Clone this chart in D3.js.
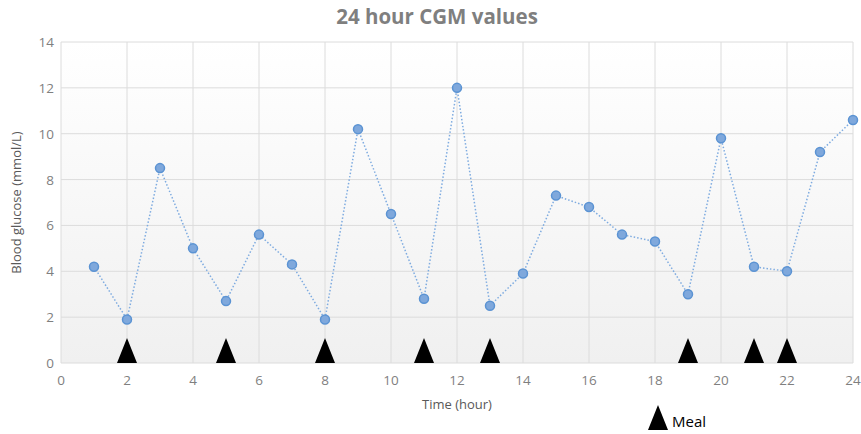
<!DOCTYPE html>
<html>
<head>
<meta charset="utf-8">
<script src="https://cdn.jsdelivr.net/npm/d3@7"></script>
<style>
  body { margin: 0; background: #fff; }
  text { font-family: "Open Sans", "Liberation Sans", sans-serif; }
</style>
</head>
<body>
<div id="chart"></div>
<script>
// hourly CGM readings
var hours = [1, 2, 3, 4, 5, 6, 7, 8, 9, 10, 11, 12, 13, 14, 15, 16, 17, 18, 19, 20, 21, 22, 23, 24];
var glucose = [4.2, 1.9, 8.5, 5.0, 2.7, 5.6, 4.3, 1.9, 10.2, 6.5, 2.8, 12.0, 2.5, 3.9, 7.3, 6.8, 5.6, 5.3, 3.0, 9.8, 4.2, 4.0, 9.2, 10.6];
var mealHours = [2, 5, 8, 11, 13, 19, 21, 22];
var xTicks = [0, 2, 4, 6, 8, 10, 12, 14, 16, 18, 20, 22, 24];
var yTicks = [0, 2, 4, 6, 8, 10, 12, 14];

var width = 861, height = 434;
var margin = {top: 42, right: 8, bottom: 71, left: 61};

var svg = d3.select("#chart").append("svg")
    .attr("width", width).attr("height", height);

var x = d3.scaleLinear().domain([0, 24]).range([margin.left, width - margin.right]);
var y = d3.scaleLinear().domain([0, 14]).range([height - margin.bottom, margin.top]);

var defs = svg.append("defs");
var grad = defs.append("linearGradient")
    .attr("id", "bg").attr("x1", 0).attr("y1", 0).attr("x2", 0).attr("y2", 1);
grad.append("stop").attr("offset", "0%").attr("stop-color", "#ffffff");
grad.append("stop").attr("offset", "100%").attr("stop-color", "#f0f0f0");

svg.append("rect")
    .attr("x", x(0)).attr("y", y(14))
    .attr("width", x(24) - x(0)).attr("height", y(0) - y(14))
    .attr("fill", "url(#bg)");

// grid
svg.append("g").selectAll("line").data(xTicks).enter().append("line")
    .attr("x1", d => x(d)).attr("x2", d => x(d))
    .attr("y1", y(14)).attr("y2", y(0))
    .attr("stroke", "#dcdcdc").attr("stroke-width", 1);
svg.append("g").selectAll("line").data(yTicks).enter().append("line")
    .attr("x1", x(0)).attr("x2", x(24))
    .attr("y1", d => y(d)).attr("y2", d => y(d))
    .attr("stroke", "#dcdcdc").attr("stroke-width", 1);

// tick labels
svg.append("g").selectAll("text").data(xTicks).enter().append("text")
    .attr("x", d => x(d)).attr("y", y(0) + 22)
    .attr("text-anchor", "middle")
    .attr("font-size", 13.5).attr("fill", "#7f7f7f")
    .text(d => d);
svg.append("g").selectAll("text").data(yTicks).enter().append("text")
    .attr("x", x(0) - 7).attr("y", d => y(d) + 5)
    .attr("text-anchor", "end")
    .attr("font-size", 13.5).attr("fill", "#7f7f7f")
    .text(d => d);

// meal markers
svg.append("g").selectAll("path").data(mealHours).enter().append("path")
    .attr("d", "M0,-25L10,0L-10,0Z")
    .attr("transform", d => "translate(" + x(d) + "," + y(0) + ")")
    .attr("fill", "#000");

// glucose line
var line = d3.line().x((d, i) => x(hours[i])).y(d => y(d));
svg.append("path")
    .datum(glucose)
    .attr("d", line)
    .attr("fill", "none")
    .attr("stroke", "#7eabe0")
    .attr("stroke-width", 1.5)
    .attr("stroke-dasharray", "1.5,2");

svg.append("g").selectAll("circle").data(glucose).enter().append("circle")
    .attr("cx", (d, i) => x(hours[i])).attr("cy", d => y(d))
    .attr("r", 4.5)
    .attr("fill", "#7fa8dc")
    .attr("stroke", "#5b93d3")
    .attr("stroke-width", 1.5);

// title and axis labels
svg.append("text")
    .attr("x", 437).attr("y", 24)
    .attr("text-anchor", "middle")
    .attr("font-size", 20.5).attr("font-weight", "bold").attr("fill", "#7f7f7f")
    .text("24 hour CGM values");

svg.append("text")
    .attr("x", x(12)).attr("y", 409)
    .attr("text-anchor", "middle")
    .attr("font-size", 13).attr("fill", "#595959")
    .text("Time (hour)");

svg.append("text")
    .attr("transform", "translate(21," + ((y(0) + y(14)) / 2) + ") rotate(-90)")
    .attr("text-anchor", "middle")
    .attr("font-size", 13).attr("fill", "#595959")
    .text("Blood glucose (mmol/L)");

// legend
var lg = svg.append("g").attr("transform", "translate(658,430)");
lg.append("path").attr("d", "M0,-25L10,0L-10,0Z").attr("fill", "#000");
lg.append("text").attr("x", 14).attr("y", -3)
    .attr("font-size", 15).attr("fill", "#000")
    .text("Meal");
</script>
</body>
</html>
